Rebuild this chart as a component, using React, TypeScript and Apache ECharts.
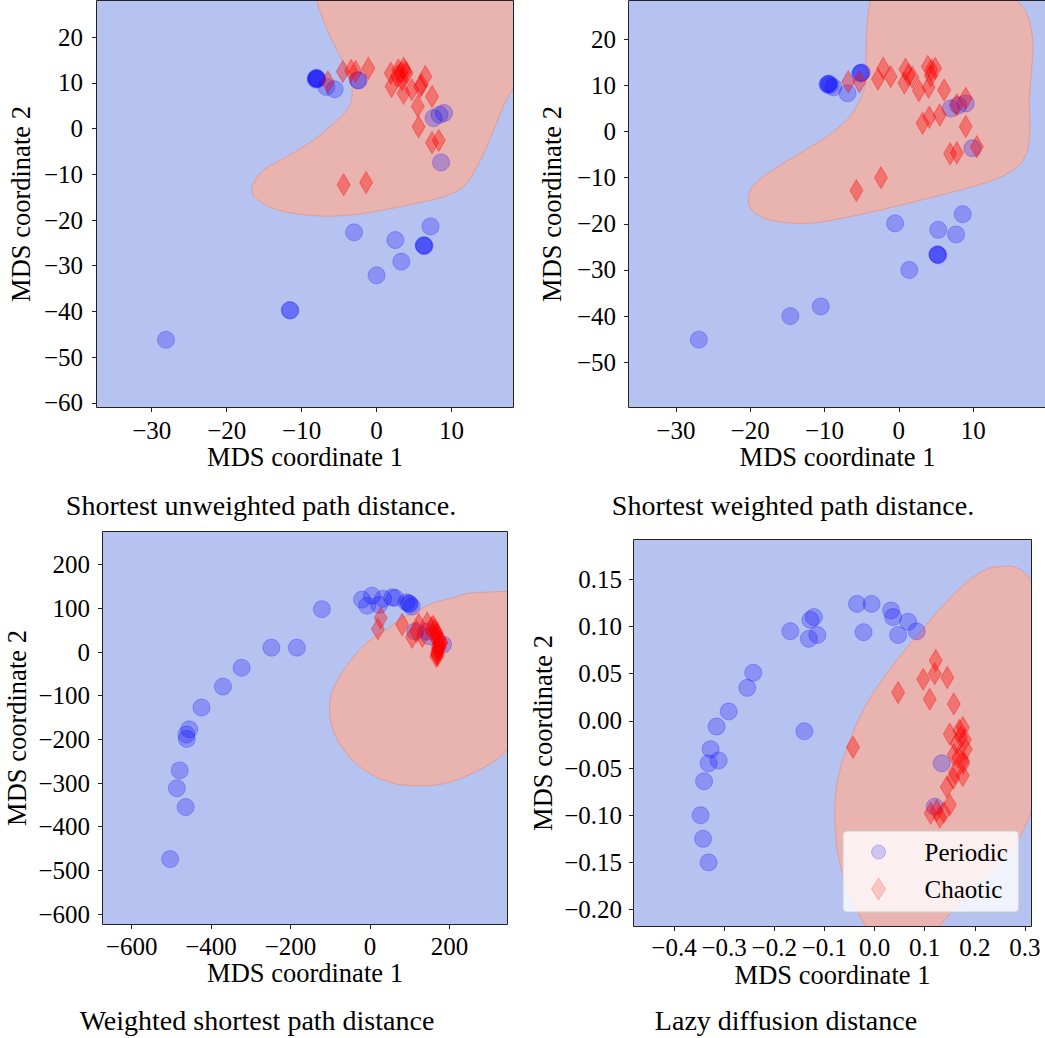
import React, { useEffect, useRef } from 'react';
import * as echarts from 'echarts';

// ---------------- DATA ----------------
// Panel 1: Shortest unweighted path distance
const p1Periodic: number[][] = [
  [-8.0, 10.9], [-8.1, 11.0], [-7.9, 10.8], [-8.0, 11.1], [-8.1, 10.7],
  [-6.7, 9.1], [-5.6, 8.6], [-2.5, 10.6], [-2.4, 10.5],
  [7.6, 2.3], [8.4, 3.0], [9.0, 3.4], [8.6, -7.4],
  [7.2, -21.4], [-3.0, -22.7], [2.5, -24.4], [6.3, -25.6], [6.4, -25.7], [6.3, -25.5],
  [3.3, -29.1], [0.0, -32.1], [-11.6, -39.7], [-11.5, -39.8], [-28.1, -46.2],
];
const p1Chaotic: number[][] = [
  [-6.5, 10.2], [-4.5, 12.5], [-3.4, 12.7], [-2.8, 12.5], [-1.1, 13.2],
  [-4.4, -12.3], [-1.4, -11.8],
  [1.9, 12.1], [2.0, 9.2], [2.7, 11.4], [2.9, 12.8], [3.0, 11.6], [3.3, 12.2],
  [3.6, 13.2], [4.0, 12.1], [3.8, 12.5], [3.4, 10.7], [3.6, 7.7], [4.7, 8.5],
  [5.8, 9.2], [6.5, 11.4], [6.0, 9.6], [7.4, 7.0], [5.5, 4.9], [5.6, 0.4],
  [7.4, -3.1], [8.3, -2.6],
];
const p1Region: number[][] = [
  [-8.0, 35], [-7.93, 28.2], [-7.26, 24.5], [-6.16, 20.1], [-4.6, 15.0], [-3.5, 10.7],
  [-3.27, 7.0], [-3.9, 4.1], [-5.7, 1.2], [-8.4, -2.5], [-11.9, -6.1], [-15.0, -9.0],
  [-16.4, -11.9], [-16.6, -14.1], [-15.9, -15.6], [-13.2, -17.8], [-7.9, -19.1],
  [-3.5, -18.9], [0.9, -17.8], [5.4, -16.3], [8.9, -14.9], [11.6, -12.7], [13.4, -8.3],
  [14.7, -3.9], [15.8, 0.4], [16.9, 4.8], [18.1, 8.5], [19.5, 12], [22, 20], [22, 35],
];
const p1XRange = [-37.3, 18.2];
const p1YRange = [-60.9, 27.9];
const p1XTicks = [-30, -20, -10, 0, 10];
const p1YTicks = [-60, -50, -40, -30, -20, -10, 0, 10, 20];

// Panel 2: Shortest weighted path distance
const p2Periodic: number[][] = [
  [-9.5, 10.3], [-9.6, 10.2], [-9.4, 10.4], [-9.3, 10.0], [-8.8, 9.6], [-6.9, 8.3],
  [-5.1, 12.7], [-5.2, 12.6], [-5.0, 12.8],
  [7.0, 5.0], [8.0, 5.7], [9.0, 6.1], [9.9, -3.6],
  [-0.5, -19.9], [5.3, -21.3], [7.7, -22.3], [8.6, -17.9],
  [5.2, -26.7], [5.3, -26.8], [5.2, -26.6],
  [1.4, -30.0], [-10.5, -37.9], [-14.6, -40.0], [-26.9, -45.1],
];
const p2Chaotic: number[][] = [
  [-6.8, 10.8], [-5.3, 10.8], [-5.7, -12.8], [-2.4, -10.0], [-2.8, 11.4], [-2.1, 13.7],
  [-1.1, 11.9], [0.75, 10.5], [0.9, 13.5], [1.3, 12.3], [1.8, 11.8], [2.7, 8.9],
  [4.0, 9.6], [3.9, 14.1], [4.4, 13.4], [4.9, 13.7], [4.3, 12.1], [6.1, 9.0],
  [3.2, 1.8], [4.1, 3.1], [5.5, 3.6], [7.8, 5.8], [9.0, 7.2], [9.0, 1.1],
  [6.9, -4.8], [7.8, -4.6], [10.5, -3.3],
];
const p2Region: number[][] = [
  [-3.86, 31], [-3.86, 28.5], [-4.3, 22.8], [-4.4, 16.3], [-4.5, 10.5], [-5.2, 6.9],
  [-7.0, 2.5], [-9.7, -1.1], [-13.3, -4.7], [-16.9, -8.3], [-19.5, -11.6], [-20.2, -14.1],
  [-19.8, -17.0], [-17.5, -19.1], [-12.6, -19.9], [-7.7, -18.8], [-0.9, -16.4], [5.8, -13.7],
  [9.1, -12.3], [12.7, -10.5], [15.4, -8.3], [17.0, -5.4], [17.6, -0.35], [17.55, 6.9],
  [17.9, 14.1], [18.0, 19.9], [17.2, 25.7], [15.9, 28.5], [15.2, 31],
];
const p2XRange = [-36.3, 19.8];
const p2YRange = [-59.7, 28.3];
const p2XTicks = [-30, -20, -10, 0, 10];
const p2YTicks = [-50, -40, -30, -20, -10, 0, 10, 20];

// Panel 3: Weighted shortest path distance
const p3Periodic: number[][] = [
  [-20, 120], [5, 129], [-7, 106], [23, 108], [33, 122], [56, 125], [63, 124],
  [92, 114], [98, 111], [100, 110], [105, 104], [-121, 98],
  [-248, 10], [-184, 10], [-323, -36], [-370, -79], [-424, -127], [-455, -177],
  [-462, -189], [-461, -199], [-479, -271], [-486, -312], [-464, -355], [-503, -474],
  [114, 47], [142, 47], [150, 36], [184, 17],
];
const p3Chaotic: number[][] = [
  [27, 78], [20, 53], [81, 63], [106, 34], [123, 63], [132, 36], [144, 66], [159, 59],
  [117, 47], [155, 55], [163, 51], [167, 44], [159, 43], [167, 40], [176, 28], [171, 28],
  [180, 22], [174, 17], [171, 13], [176, 11], [171, 5], [169, -4], [170, 0], [172, 8],
  [167, -10], [170, -8], [178, 20],
];
const p3Region: number[][] = [
  [380, 140], [344, 139], [293, 137], [242.8, 133.5], [209, 124], [158.7, 112.2],
  [125, 97], [74.8, 74.0], [41, 51], [-9.1, 20.6], [-59.4, -33], [-93.2, -86.3],
  [-101.5, -124.6], [-93.2, -177.9], [-59.4, -231.3], [-9.1, -273.4], [57.9, -300],
  [116.9, -306.2], [183.9, -301.6], [259.4, -277.1], [318.4, -246.6], [345, -223.7],
  [380, -190],
];
const p3XRange = [-672, 345];
const p3YRange = [-622.7, 274.8];
const p3XTicks = [-600, -400, -200, 0, 200];
const p3YTicks = [-600, -500, -400, -300, -200, -100, 0, 100, 200];

// Panel 4: Lazy diffusion distance
const p4Periodic: number[][] = [
  [-0.035, 0.124], [-0.006, 0.124], [0.033, 0.117], [0.037, 0.110], [0.067, 0.105],
  [0.084, 0.095], [0.047, 0.091], [-0.022, 0.094], [-0.121, 0.110], [-0.128, 0.107],
  [-0.114, 0.091], [-0.131, 0.087], [-0.168, 0.095], [-0.242, 0.051], [-0.254, 0.035],
  [-0.291, 0.010], [-0.315, -0.006], [-0.140, -0.011], [-0.327, -0.030], [-0.311, -0.042],
  [-0.331, -0.045], [-0.340, -0.064], [-0.347, -0.100], [-0.342, -0.125], [-0.331, -0.150],
  [0.134, -0.045], [0.120, -0.091],
];
const p4Chaotic: number[][] = [
  [0.122, 0.064], [0.120, 0.050], [0.097, 0.044], [0.145, 0.046], [0.047, 0.030],
  [0.110, 0.023], [0.158, 0.018], [-0.043, -0.028], [0.150, -0.014], [0.169, -0.010],
  [0.176, -0.007], [0.172, -0.017], [0.180, -0.020], [0.164, -0.024], [0.182, -0.030],
  [0.158, -0.036], [0.176, -0.042], [0.167, -0.039], [0.177, -0.045], [0.160, -0.055],
  [0.157, -0.061], [0.176, -0.058], [0.144, -0.070], [0.150, -0.089], [0.112, -0.098],
  [0.124, -0.095], [0.130, -0.102], [0.138, -0.097],
];
const p4Region: number[][] = [
  [0.263, 0.164], [0.220, 0.160], [0.167, 0.139], [0.100, 0.100], [0.034, 0.057],
  [-0.019, 0.015], [-0.059, -0.035], [-0.076, -0.070], [-0.079, -0.105], [-0.073, -0.141],
  [-0.056, -0.176], [-0.033, -0.203], [-0.019, -0.217], [-0.005, -0.235], [0.12, -0.235],
  [0.130, -0.218], [0.140, -0.211], [0.166, -0.195], [0.200, -0.176], [0.244, -0.151],
  [0.285, -0.127], [0.306, -0.105], [0.312, -0.097], [0.33, -0.075], [0.33, 0.14],
  [0.310, 0.151], [0.300, 0.156], [0.285, 0.162],
];
const p4XRange = [-0.4798, 0.312];
const p4YRange = [-0.2174, 0.1917];
const p4XTicks = [-0.4, -0.3, -0.2, -0.1, 0, 0.1, 0.2, 0.3];
const p4YTicks = [-0.2, -0.15, -0.1, -0.05, 0, 0.05, 0.1, 0.15];

const panelTitles = [
  'Shortest unweighted path distance.',
  'Shortest weighted path distance.',
  'Weighted shortest path distance',
  'Lazy diffusion distance',
];
const classNames = ['Periodic', 'Chaotic'];
const xAxisName = 'MDS coordinate 1';
const yAxisName = 'MDS coordinate 2';

// ---------------- STYLE / LAYOUT ----------------
const FONT = '"Liberation Serif", "Times New Roman", serif';
const FS = 25;
const FS_NAME = 26.5;
const FS_TITLE = 28;
const BLUE_BG = '#b6c2ef';
const PINK = '#e9b4b0';
const PINK_EDGE = '#dd9e98';
const FRAME = '#222222';

const PANELS = [
  {
    layout: { left: 97, top: 1, width: 416, height: 406 },
    xRange: p1XRange, yRange: p1YRange, xTicks: p1XTicks, yTicks: p1YTicks, xDec: 0, yDec: 0,
    periodic: p1Periodic, chaotic: p1Chaotic, region: p1Region,
    title: panelTitles[0], titlePos: [261, 505],
    xMargin: 11, xNameGap: 36, yMargin: 14, yNameGap: 63,
  },
  {
    layout: { left: 629, top: 1, width: 417, height: 406 },
    xRange: p2XRange, yRange: p2YRange, xTicks: p2XTicks, yTicks: p2YTicks, xDec: 0, yDec: 0,
    periodic: p2Periodic, chaotic: p2Chaotic, region: p2Region,
    title: panelTitles[1], titlePos: [793, 505],
    xMargin: 11, xNameGap: 36, yMargin: 13, yNameGap: 64,
  },
  {
    layout: { left: 103, top: 532, width: 404, height: 392 },
    xRange: p3XRange, yRange: p3YRange, xTicks: p3XTicks, yTicks: p3YTicks, xDec: 0, yDec: 0,
    periodic: p3Periodic, chaotic: p3Chaotic, region: p3Region,
    title: panelTitles[2], titlePos: [257, 1020],
    xMargin: 10, xNameGap: 35, yMargin: 13, yNameGap: 73,
  },
  {
    layout: { left: 634, top: 540, width: 397, height: 386 },
    xRange: p4XRange, yRange: p4YRange, xTicks: p4XTicks, yTicks: p4YTicks, xDec: 1, yDec: 2,
    periodic: p4Periodic, chaotic: p4Chaotic, region: p4Region,
    title: panelTitles[3], titlePos: [786, 1020],
    xMargin: 9, xNameGap: 35, yMargin: 12, yNameGap: 78,
  },
];

const fmt = (d: number) => (v: number) => {
  const s = Number(v).toFixed(d);
  return s.replace('-', '\u2212');
};

const textStyle = { fontFamily: FONT, fontSize: FS, color: '#000' };
const nameStyle = { fontFamily: FONT, fontSize: FS_NAME, color: '#000' };

function buildOption() {
  const series: any[] = [];
  PANELS.forEach((p, i) => {
    const region = p.region;
    series.push({
      type: 'custom',
      xAxisIndex: i,
      yAxisIndex: i,
      clip: true,
      silent: true,
      z: 1,
      data: [[0, 0]],
      renderItem: (_params: any, api: any) => ({
        type: 'polygon',
        shape: { points: region.map((pt) => api.coord(pt)), smooth: 0.35 },
        style: { fill: PINK, stroke: PINK_EDGE, lineWidth: 1 },
      }),
    });
    series.push({
      type: 'scatter',
      name: classNames[0],
      xAxisIndex: i,
      yAxisIndex: i,
      data: p.periodic,
      symbol: 'circle',
      symbolSize: 17,
      itemStyle: { color: 'rgba(0,0,255,0.3)', borderColor: 'rgba(0,0,255,0.3)', borderWidth: 1 },
      emphasis: { disabled: true },
      z: 3,
    });
    series.push({
      type: 'scatter',
      name: classNames[1],
      xAxisIndex: i,
      yAxisIndex: i,
      data: p.chaotic,
      symbol: 'diamond',
      symbolSize: [13, 22],
      itemStyle: { color: 'rgba(255,0,0,0.45)', borderColor: 'rgba(255,0,0,0.45)', borderWidth: 1 },
      emphasis: { disabled: true },
      z: 4,
    });
  });

  const graphic: any[] = [];
  PANELS.forEach((p) => {
    graphic.push({
      type: 'rect',
      silent: true,
      z: 100,
      shape: { x: p.layout.left - 0.5, y: p.layout.top - 0.5, width: p.layout.width + 1, height: p.layout.height + 1 },
      style: { fill: 'rgba(0,0,0,0)', stroke: FRAME, lineWidth: 1 },
    });
    graphic.push({
      type: 'text',
      silent: true,
      z: 100,
      x: p.titlePos[0],
      y: p.titlePos[1],
      style: {
        text: p.title,
        fontFamily: FONT,
        fontSize: FS_TITLE,
        fill: '#000',
        align: 'center',
        verticalAlign: 'middle',
        textAlign: 'center',
        textVerticalAlign: 'middle',
      },
    });
  });

  return {
    animation: false,
    backgroundColor: '#ffffff',
    grid: PANELS.map((p) => ({
      ...p.layout,
      show: true,
      backgroundColor: BLUE_BG,
      borderWidth: 0,
      containLabel: false,
      outerBoundsMode: 'none',
    })),
    xAxis: PANELS.map((p, i) => ({
      type: 'value',
      gridIndex: i,
      min: p.xRange[0],
      max: p.xRange[1],
      splitLine: { show: false },
      axisLine: { show: false, onZero: false },
      axisTick: { show: true, length: 5, customValues: p.xTicks, lineStyle: { color: FRAME, width: 1 } },
      axisLabel: { customValues: p.xTicks, formatter: fmt(p.xDec), margin: p.xMargin, ...textStyle },
      name: xAxisName,
      nameLocation: 'middle',
      nameGap: p.xNameGap,
      nameTextStyle: nameStyle,
    })),
    yAxis: PANELS.map((p, i) => ({
      type: 'value',
      gridIndex: i,
      min: p.yRange[0],
      max: p.yRange[1],
      splitLine: { show: false },
      axisLine: { show: false, onZero: false },
      axisTick: { show: true, length: 5, customValues: p.yTicks, lineStyle: { color: FRAME, width: 1 } },
      axisLabel: { customValues: p.yTicks, formatter: fmt(p.yDec), margin: p.yMargin, ...textStyle },
      name: yAxisName,
      nameLocation: 'middle',
      nameGap: p.yNameGap,
      nameTextStyle: nameStyle,
    })),
    legend: {
      data: [
        { name: classNames[0], itemStyle: { color: 'rgba(0,0,255,0.22)', borderColor: 'rgba(0,0,255,0.25)', borderWidth: 1 } },
        { name: classNames[1], itemStyle: { color: 'rgba(255,0,0,0.22)', borderColor: 'rgba(255,0,0,0.25)', borderWidth: 1 } },
      ],
      orient: 'vertical',
      left: 843,
      top: 831,
      padding: [8, 11, 10, 28],
      itemGap: 11,
      itemWidth: 14,
      itemHeight: 22,
      backgroundColor: 'rgba(255,255,255,0.8)',
      borderColor: '#cccccc',
      borderWidth: 1,
      borderRadius: 4,
      selectedMode: false,
      textStyle: { ...textStyle, lineHeight: 26, padding: [0, 0, 0, 34] },
    },
    series,
    graphic,
  };
}

export default function App() {
  const ref = useRef<HTMLDivElement>(null);
  useEffect(() => {
    if (!ref.current) return;
    const chart = echarts.init(ref.current, undefined, { renderer: 'svg' });
    chart.setOption(buildOption() as any);
    return () => chart.dispose();
  }, []);
  return (
    <div
      ref={ref}
      style={{ position: 'fixed', left: 0, top: 0, width: 1045, height: 1038, background: '#fff' }}
    />
  );
}
